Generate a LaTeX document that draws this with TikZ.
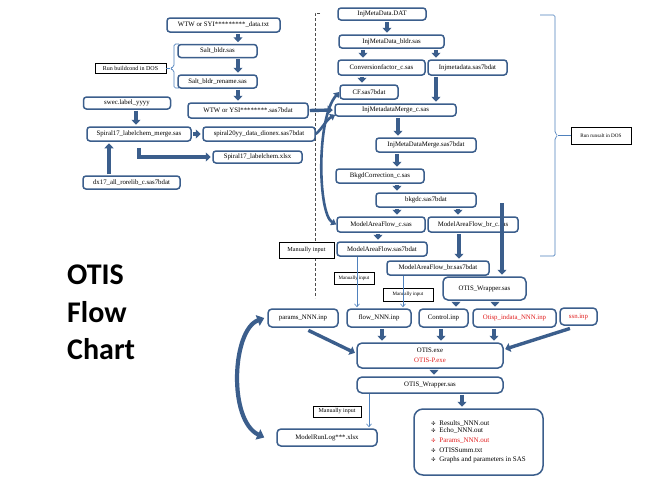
\documentclass[tikz,border=0pt]{standalone}
\usepackage{fontspec}
\setmainfont{Liberation Serif}
\newfontfamily\titlefont{Carlito}
\newfontfamily\djv{DejaVu Sans}
\usetikzlibrary{arrows.meta}
\definecolor{bcol}{RGB}{59,94,140}
\definecolor{lcol}{RGB}{79,129,189}
\definecolor{rtext}{RGB}{225,30,30}
\newcommand\bul{{\djv\fontsize{5}{6}\selectfont ✣}\hspace{4pt}}
\begin{document}
\begin{tikzpicture}[x=1pt,y=-1pt,
 box/.style={draw=bcol,line width=1.5pt,rounded corners=3pt,fill=white,inner sep=0pt,align=center,font=\fontsize{6.8}{8}\selectfont},
 note/.style={draw=black,line width=0.6pt,fill=white,inner sep=0pt,align=center},
 sz/.style 2 args={minimum width=#1pt,minimum height=#2pt},
 barrow/.style={draw=bcol,line width=3.4pt,line join=miter,shorten >=1.5pt,shorten <=1pt,-{Triangle[width=9pt,length=5pt]}},
 carrow/.style={draw=bcol,line width=2.6pt,{Triangle[width=7pt,length=5pt]}-{Triangle[width=7pt,length=5pt]}},
 thinarrow/.style={draw=lcol,line width=0.6pt,shorten >=1pt,-{Straight Barb[width=5pt,length=3pt]}},
 brace/.style={draw=lcol,line width=0.7pt,rounded corners=1.5pt},
 ttl/.style={anchor=base west,inner sep=0pt,font=\titlefont\bfseries\fontsize{30}{36}\selectfont}]
\fill[white] (0,0) rectangle (645,483);
\useasboundingbox (0,0) rectangle (645,483);

% title
\node[ttl] (t1) at (67,284) {OTIS};
\node[ttl] (t2) at (67,322) {Flow};
\node[ttl] (t3) at (67,359) {Chart};

% dashed separator
\draw[gray!60!black,line width=0.6pt,dash pattern=on 3pt off 2pt] (320,13) -- (315,13) -- (315,298);

% left group
\node[box,sz={113}{14}] (wtwtxt) at (223.5,25) {WTW or SYI*********\_data.txt};
\node[box,sz={79}{13}] (saltb) at (217.5,51) {Salt\_bldr.sas};
\node[box,sz={79}{13}] (saltr) at (217.5,81.5) {Salt\_bldr\_rename.sas};
\node[note,sz={71}{10},font=\fontsize{6}{7}\selectfont] (runbc) at (130.5,68.5) {Run buildcond in DOS};
\node[box,sz={120}{15}] (wtwsas) at (248,110.5) {WTW or YSI********.sas7bdat};
\node[box,sz={87}{12}] (swec) at (127,103) {swec.label\_yyyy};
\node[box,sz={104}{14}] (spmerge) at (139,134) {Spiral17\_labelchem\_merge.sas};
\node[box,sz={112}{14}] (spdion) at (259,134) {spiral20yy\_data\_dionex.sas7bdat};
\node[box,sz={89}{12}] (spxlsx) at (257.5,157) {Spiral17\_labelchem.xlsx};
\node[box,sz={97}{13}] (dx17) at (131.5,182.5) {dx17\_all\_rorelib\_c.sas7bdat};

% left brace
\coordinate (lbtip) at (170,68.5);
\draw[brace] (179,44) -- (174,44) -- (174,66.5) -- (lbtip) -- (174,70.5) -- (174,88) -- (179,88);
\draw[lcol,line width=0.7pt] (lbtip) -- (runbc.east);

% right group
\node[box,sz={88}{12}] (injdat) at (382,14) {InjMetaData.DAT};
\node[box,sz={105}{13}] (injbldr) at (391.5,41.5) {InjMetaData\_bldr.sas};
\node[box,sz={87}{15}] (convf) at (381.5,67.5) {Conversionfactor\_c.sas};
\node[box,sz={79}{15}] (injsas) at (467.5,67.5) {Injmetadata.sas7bdat};
\node[box,sz={58}{14}] (cfsas) at (369,92) {CF.sas7bdat};
\node[box,sz={121}{12}] (injmerge) at (395.5,110) {InjMetadataMerge\_c.sas};
\node[box,sz={100}{14}] (injmsas) at (426,145) {InjMetaDataMerge.sas7bdat};
\node[box,sz={88}{14}] (bkgd) at (380,176) {BkgdCorrection\_c.sas};
\node[box,sz={100}{14}] (bkgdc) at (426,200) {bkgdc.sas7bdat};
\node[box,sz={88}{15}] (mafc) at (381,224.5) {ModelAreaFlow\_c.sas};
\node[box,sz={90}{15}] (mafbrc) at (473,224.5) {ModelAreaFlow\_br\_c.sas};
\node[box,sz={90}{14}] (mafsas) at (382,249) {ModelAreaFlow.sas7bdat};
\node[box,sz={102}{14}] (mafbrsas) at (438,268) {ModelAreaFlow\_br.sas7bdat};
\node[box,sz={83}{23},rounded corners=5pt] (wrap1) at (484.5,288.5) {OTIS\_Wrapper.sas};
\node[note,sz={55}{16},font=\fontsize{6.2}{7}\selectfont] (mi1) at (306.5,250) {Manually input};
\node[note,sz={40}{12},font=\fontsize{5}{6}\selectfont] (mi2) at (354,278) {Manually input};
\node[note,sz={50}{13},font=\fontsize{5}{6}\selectfont] (mi3) at (408,294.5) {Manually input};
\node[note,sz={60}{17},font=\fontsize{5.2}{6}\selectfont] (runsalt) at (601,135.5) {Run runsalt in DOS};

% right brace
\coordinate (rbtip) at (558,135.5);
\draw[brace] (540,15) -- (555,15) -- (555,133) -- (rbtip) -- (555,138) -- (555,256) -- (540,256);
\draw[lcol,line width=0.7pt] (rbtip) -- (runsalt.west);

% input row
\node[box,sz={70}{18},rounded corners=4pt] (params) at (303,318) {params\_NNN.inp};
\node[box,sz={64}{18},rounded corners=4pt] (flow) at (379,318) {flow\_NNN.inp};
\node[box,sz={49}{18},rounded corners=4pt] (control) at (443.5,318) {Control.inp};
\node[box,sz={83}{18},rounded corners=4pt,text=rtext] (otisp) at (514.5,318) {Otisp\_indata\_NNN.inp};
\node[box,sz={37}{17},rounded corners=4pt,text=rtext] (ssn) at (578.5,316.5) {ssn.inp};

% lower part
\node[box,sz={146}{25},rounded corners=5pt,font=\fontsize{6.8}{9.5}\selectfont] (otisexe) at (430,355.5) {OTIS.exe\\\textcolor{rtext}{OTIS-P.exe}};
\node[box,sz={146}{16},rounded corners=5pt] (wrap2) at (430,385) {OTIS\_Wrapper.sas};
\node[note,sz={48}{11},font=\fontsize{6}{7}\selectfont] (mi4) at (337,411.5) {Manually input};
\node[box,sz={100}{17},rounded corners=4pt] (runlog) at (327,437.5) {ModelRunLog***.xlsx};
\node[box,sz={129}{66},rounded corners=9pt,align=left,font=\fontsize{7}{9.8}\selectfont] (outbox) at (478.5,442)
 {\bul Results\_NNN.out\\[-2.8pt]\bul Echo\_NNN.out\\\textcolor{rtext}{\bul Params\_NNN.out}\\\bul OTISSumm.txt\\\bul Graphs and parameters in SAS};

% block arrows, left group
\draw[barrow] (wtwtxt.south -| 238,0) -- (saltb.north -| 238,0);
\draw[barrow] (saltb.south -| 238,0) -- (saltr.north -| 238,0);
\draw[barrow] (saltr.south -| 238,0) -- (wtwsas.north -| 238,0);
\draw[barrow] (swec.south -| 136,0) -- (spmerge.north -| 136,0);
\draw[barrow] (spmerge.east) -- (spdion.west);
\draw[barrow,shorten <=6pt] (spmerge.south -| 139,0) |- (spxlsx.west);
\draw[barrow] (dx17.north -| 109,0) -- (spmerge.south -| 109,0);
\draw[barrow] (wtwsas.east) -- (injmerge.west);
\draw[draw=bcol,line width=2.6pt,-{Triangle[width=7pt,length=5pt]}] (spdion.east) .. controls (322,129) and (326,120) .. ([xshift=1pt,yshift=2pt]injmerge.south west);

% block arrows, right group
\draw[barrow] (injdat.south -| 387,0) -- (injbldr.north -| 387,0);
\draw[barrow] (injbldr.south -| 363,0) -- (convf.north -| 363,0);
\draw[barrow] (injbldr.south -| 436,0) -- (injsas.north -| 436,0);
\draw[barrow] (convf.south -| 362,0) -- (cfsas.north -| 362,0);
\draw[barrow] (injsas.south -| 436,0) -- (injmerge.north -| 436,0);
\draw[barrow] (injmerge.south -| 398,0) -- (injmsas.north -| 398,0);
\draw[barrow] (injmsas.south -| 397,0) -- (bkgd.north -| 397,0);
\draw[barrow] (bkgd.south -| 397,0) -- (bkgdc.north -| 397,0);
\draw[barrow] (bkgdc.south -| 397,0) -- (mafc.north -| 397,0);
\draw[barrow] (bkgdc.south -| 458,0) -- (mafbrc.north -| 458,0);
\draw[barrow] (mafc.south -| 378,0) -- (mafsas.north -| 378,0);
\draw[barrow] (mafbrc.south -| 459,0) -- (mafbrsas.north -| 459,0);
\coordinate (alltop) at (502,202);
\draw[barrow] (alltop) -- (wrap1.north -| 502,0);
\draw[carrow] (cfsas.west) .. controls (316,118) and (318,214) .. (mafc.west);

% thin manual-input arrows
\draw[thinarrow] (mafsas.south -| 357,0) -- (flow.north -| 357,0);
\draw[thinarrow] (mafbrsas.south -| 403,0) -- (flow.north -| 403,0);
\draw[thinarrow] (wrap2.south -| 369,0) -- (runlog.north -| 369,0);

% to and from OTIS
\draw[barrow] (wrap1.south -| 456,0) -- (control.north -| 456,0);
\draw[barrow] (wrap1.south -| 495,0) -- (otisp.north -| 495,0);
\draw[barrow] (flow.south -| 382,0) -- (otisexe.north -| 382,0);
\draw[barrow] (control.south -| 441,0) -- (otisexe.north -| 441,0);
\draw[barrow] (otisp.south -| 494,0) -- (otisexe.north -| 494,0);
\draw[barrow,shorten <=6pt] (params.south) -- ([yshift=2pt]otisexe.west);
\draw[barrow,shorten <=9pt] (ssn.south) -- ([yshift=6pt]otisexe.east);
\draw[barrow] (otisexe.south -| 434,0) -- (wrap2.north -| 434,0);
\draw[barrow] (wrap2.south -| 462,0) -- (outbox.north -| 462,0);
\draw[draw=bcol,line width=4.2pt,{Triangle[width=11pt,length=7pt]}-{Triangle[width=11pt,length=7pt]}]
 ([xshift=-3pt]params.west) .. controls (232,330) and (228,420) .. ([xshift=-12pt]runlog.west);
\end{tikzpicture}
\end{document}
